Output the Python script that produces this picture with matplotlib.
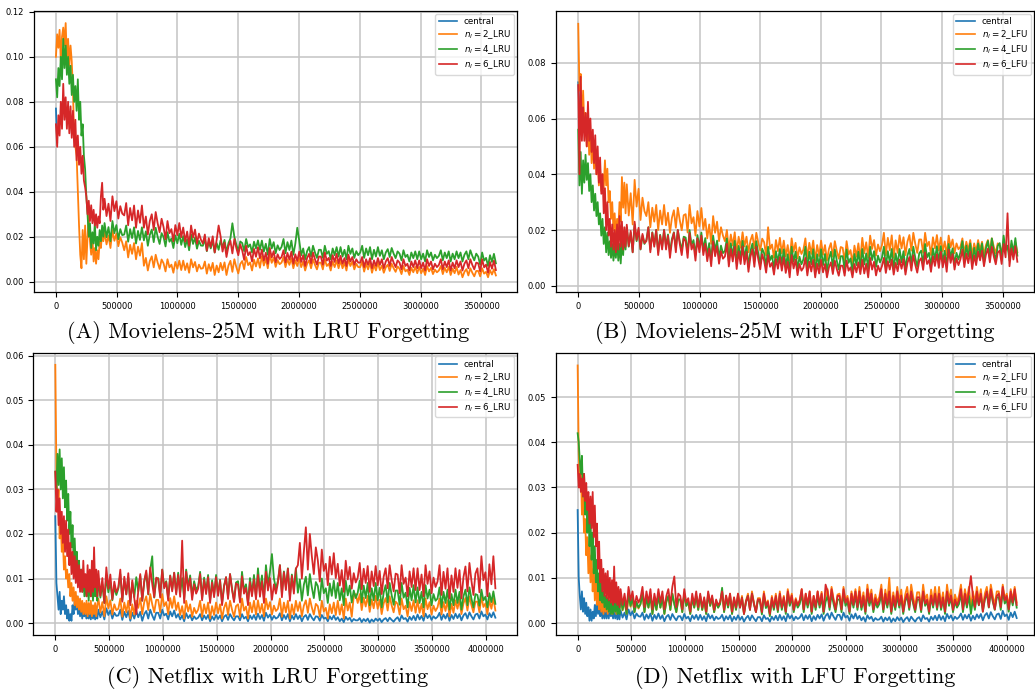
import numpy as np
import matplotlib.pyplot as plt

# valores em unidades de 1e-4
# 40 pontos iniciais (0..390000, passo 10000) + 200 pontos de 400000 ate o fim
x_end_movielens = 3620000
x_end_netflix = 4090000

# (A) Movielens-25M LRU
a_central = [770, 620]
a_n2 = [1000, 1100, 1040, 1120, 980, 1090, 1130, 1050, 1150, 990, 1080, 960, 1050, 980, 850, 640, 600, 560, 400, 250,
        120, 60, 230, 100, 250, 80, 200, 300, 180, 120, 200, 90, 150, 80, 140, 100, 180, 150, 220, 180,
        222, 166, 206, 150, 230, 182, 214, 158, 198, 174, 140, 180, 108, 164, 124, 172, 100, 156, 116, 172,
        71, 106, 50, 92, 113, 64, 120, 85, 57, 99, 82, 46, 100, 64, 76, 40, 88, 58, 94, 52,
        94, 52, 82, 40, 100, 64, 88, 46, 76, 58, 60, 90, 36, 78, 48, 84, 30, 72, 42, 84,
        51, 86, 30, 72, 93, 44, 100, 65, 37, 79, 92, 56, 110, 74, 86, 50, 98, 68, 104, 62,
        114, 72, 102, 60, 120, 84, 108, 66, 96, 78, 85, 110, 65, 100, 75, 105, 60, 95, 70, 105,
        65, 90, 50, 80, 95, 60, 100, 75, 55, 85, 85, 55, 100, 70, 80, 50, 90, 65, 95, 60,
        95, 60, 85, 50, 100, 70, 90, 55, 80, 65, 65, 90, 45, 80, 55, 85, 40, 75, 50, 85,
        52, 72, 40, 64, 76, 48, 80, 60, 44, 68, 58, 34, 70, 46, 54, 30, 62, 42, 66, 38,
        66, 38, 58, 30, 70, 46, 62, 34, 54, 42, 50, 70, 34, 62, 42, 66, 30, 58, 38, 66,
        32, 52, 20, 44, 56, 28, 60, 40, 24, 48, 48, 24, 60, 36, 44, 20, 52, 32, 56, 28]
a_n4 = [900, 820, 950, 870, 1000, 900, 1080, 950, 1050, 920, 1000, 880, 960, 830, 920, 800, 870, 760, 900, 720,
        800, 650, 700, 560, 500, 380, 300, 200, 260, 150, 220, 170, 260, 140, 200, 160, 230, 180, 250, 200,
        261, 198, 243, 180, 270, 216, 252, 189, 234, 207, 210, 250, 178, 234, 194, 242, 170, 226, 186, 242,
        184, 224, 160, 208, 232, 176, 240, 200, 168, 216, 199, 157, 220, 178, 192, 150, 206, 171, 213, 164,
        203, 154, 189, 140, 210, 168, 196, 147, 182, 161, 160, 190, 136, 178, 148, 184, 130, 172, 142, 184,
        151, 186, 130, 172, 193, 260, 200, 165, 137, 179, 172, 136, 190, 154, 166, 130, 178, 148, 184, 142,
        183, 134, 169, 120, 190, 148, 176, 127, 162, 141, 155, 190, 127, 176, 141, 183, 120, 169, 240, 183,
        118, 148, 100, 136, 154, 112, 160, 130, 106, 142, 142, 106, 160, 124, 136, 100, 148, 118, 154, 112,
        154, 112, 142, 100, 160, 124, 148, 106, 136, 118, 130, 160, 106, 148, 118, 154, 100, 142, 112, 154,
        115, 140, 100, 130, 145, 110, 150, 125, 105, 135, 125, 95, 140, 110, 120, 90, 130, 105, 135, 100,
        135, 100, 125, 90, 140, 110, 130, 95, 120, 105, 115, 140, 95, 130, 105, 135, 90, 125, 100, 135,
        105, 130, 90, 120, 135, 100, 140, 115, 95, 125, 112, 76, 130, 94, 106, 70, 118, 88, 124, 82]
a_n6 = [700, 600, 740, 650, 800, 680, 880, 720, 820, 680, 800, 660, 780, 640, 760, 600, 720, 540, 650, 520,
        600, 480, 560, 450, 420, 380, 300, 360, 270, 340, 260, 320, 250, 300, 240, 290, 260, 380, 440, 320,
        369, 292, 347, 270, 380, 314, 358, 281, 336, 303, 295, 350, 251, 328, 273, 339, 240, 317, 262, 339,
        240, 290, 210, 270, 300, 230, 310, 260, 220, 280, 243, 189, 270, 216, 234, 180, 252, 207, 261, 198,
        241, 178, 223, 160, 250, 196, 232, 169, 214, 187, 170, 210, 138, 194, 154, 202, 130, 186, 250, 202,
        134, 174, 110, 158, 182, 126, 190, 150, 118, 166, 139, 97, 160, 118, 132, 90, 146, 111, 153, 104,
        143, 94, 129, 80, 150, 108, 136, 87, 122, 101, 110, 140, 86, 128, 98, 134, 80, 122, 92, 134,
        88, 118, 70, 106, 124, 82, 130, 100, 76, 112, 112, 76, 130, 94, 106, 70, 118, 88, 124, 82,
        115, 80, 105, 70, 120, 90, 110, 75, 100, 85, 85, 110, 65, 100, 75, 105, 60, 95, 70, 105,
        75, 100, 60, 90, 105, 70, 110, 85, 65, 95, 85, 55, 100, 70, 80, 50, 90, 65, 95, 60,
        95, 60, 85, 50, 100, 70, 90, 55, 80, 65, 75, 100, 55, 90, 65, 95, 50, 85, 60, 95,
        65, 90, 50, 80, 95, 60, 100, 75, 55, 85, 82, 46, 100, 64, 76, 40, 88, 58, 94, 52]

# (B) Movielens-25M LFU
b_central = [730, 620]
b_n2 = [940, 700, 760, 560, 700, 580, 620, 500, 600, 470, 560, 440, 520, 420, 500, 400, 460, 360, 420, 340,
        400, 350, 450, 360, 420, 300, 340, 240, 300, 200, 260, 180, 240, 200, 300, 230, 390, 280, 370, 260,
        364, 252, 332, 220, 380, 284, 348, 236, 316, 268, 250, 300, 210, 280, 230, 290, 200, 270, 220, 290,
        217, 262, 190, 244, 271, 208, 280, 235, 199, 253, 257, 191, 290, 224, 246, 180, 268, 213, 279, 202,
        240, 170, 220, 150, 250, 190, 230, 160, 210, 180, 160, 200, 128, 184, 144, 192, 120, 176, 136, 192,
        141, 176, 120, 162, 183, 134, 190, 155, 127, 169, 156, 108, 210, 132, 148, 100, 164, 124, 172, 116,
        162, 106, 146, 90, 170, 122, 154, 98, 138, 114, 130, 170, 98, 154, 114, 162, 90, 146, 106, 162,
        111, 146, 90, 132, 153, 104, 160, 125, 97, 139, 136, 88, 160, 112, 128, 80, 144, 104, 152, 96,
        172, 116, 156, 100, 180, 132, 164, 108, 148, 124, 145, 190, 109, 172, 127, 181, 100, 163, 118, 181,
        134, 174, 110, 158, 182, 126, 190, 150, 118, 166, 166, 118, 190, 142, 158, 110, 174, 134, 182, 126,
        173, 124, 159, 110, 180, 138, 166, 117, 152, 131, 140, 170, 116, 158, 128, 164, 110, 152, 122, 164,
        128, 158, 110, 146, 164, 122, 170, 140, 116, 152, 145, 115, 160, 130, 140, 110, 150, 125, 155, 120]
b_n4 = [560, 360, 480, 330, 450, 370, 470, 380, 440, 340, 400, 300, 360, 270, 330, 250, 300, 220, 260, 180,
        240, 150, 210, 120, 190, 110, 160, 100, 150, 90, 140, 100, 160, 90, 150, 80, 160, 110, 180, 130,
        210, 140, 190, 120, 220, 160, 200, 130, 180, 150, 165, 210, 129, 192, 147, 201, 120, 183, 138, 201,
        144, 184, 120, 168, 192, 136, 200, 160, 128, 176, 173, 119, 200, 146, 164, 110, 182, 137, 191, 128,
        171, 108, 153, 90, 180, 126, 162, 99, 144, 117, 125, 170, 89, 152, 107, 161, 80, 143, 98, 161,
        97, 142, 70, 124, 151, 88, 160, 115, 79, 133, 116, 68, 140, 92, 108, 60, 124, 84, 132, 76,
        131, 68, 113, 50, 140, 86, 122, 59, 104, 77, 95, 140, 59, 122, 77, 131, 50, 113, 68, 131,
        74, 114, 50, 98, 122, 66, 130, 90, 58, 106, 106, 58, 130, 82, 98, 50, 114, 74, 122, 66,
        132, 76, 116, 60, 140, 92, 124, 68, 108, 84, 100, 140, 68, 124, 84, 132, 60, 116, 76, 132,
        84, 124, 60, 108, 132, 76, 140, 100, 68, 116, 126, 78, 150, 102, 118, 70, 134, 94, 142, 86,
        142, 86, 126, 70, 150, 102, 134, 78, 118, 94, 120, 160, 88, 144, 104, 152, 80, 136, 96, 152,
        107, 152, 80, 134, 161, 98, 170, 125, 89, 143, 153, 99, 180, 126, 144, 90, 162, 117, 171, 108]
b_n6 = [720, 400, 750, 520, 640, 520, 620, 500, 660, 520, 600, 480, 560, 440, 540, 400, 500, 370, 460, 330,
        400, 260, 350, 200, 300, 180, 240, 140, 220, 130, 200, 120, 220, 130, 250, 140, 230, 130, 210, 140,
        219, 142, 197, 120, 230, 164, 208, 131, 186, 153, 160, 210, 120, 190, 140, 200, 110, 180, 130, 200,
        130, 180, 100, 160, 190, 120, 200, 150, 110, 170, 160, 100, 190, 130, 150, 90, 170, 120, 180, 110,
        151, 88, 133, 70, 160, 106, 142, 79, 124, 97, 105, 150, 69, 132, 87, 141, 60, 123, 78, 141,
        77, 122, 50, 104, 131, 68, 140, 95, 59, 113, 89, 47, 110, 68, 82, 40, 96, 61, 103, 54,
        102, 46, 86, 30, 110, 62, 94, 38, 78, 54, 65, 100, 37, 86, 51, 93, 30, 79, 44, 93,
        48, 78, 30, 66, 84, 42, 90, 60, 36, 72, 72, 36, 90, 54, 66, 30, 78, 48, 84, 42,
        93, 44, 79, 30, 100, 58, 86, 37, 72, 51, 70, 100, 46, 88, 58, 94, 40, 82, 52, 94,
        61, 96, 40, 82, 103, 54, 110, 75, 47, 89, 99, 57, 120, 78, 92, 50, 106, 71, 113, 64,
        122, 66, 106, 50, 130, 82, 114, 58, 98, 74, 95, 130, 67, 116, 81, 123, 60, 109, 74, 123,
        91, 126, 70, 112, 133, 84, 140, 105, 77, 119, 126, 78, 150, 102, 260, 70, 134, 94, 142, 86]

# (C) Netflix LRU
c_central = [240, 90, 60, 30, 70, 20, 50, 30, 60, 20, 40, 10, 30, 5, 20, 5, 40, 20, 50, 30,
             60, 20, 40, 15, 35, 10, 30, 15, 40, 10, 30, 10, 25, 8, 30, 10, 25, 8, 20, 10,
             30, 13, 26, 8, 33, 18, 28, 10, 23, 16, 17, 30, 7, 25, 13, 27, 5, 23, 10, 27,
             13, 25, 5, 20, 27, 10, 30, 17, 7, 23, 23, 10, 30, 17, 21, 8, 26, 15, 28, 12,
             20, 8, 17, 4, 22, 11, 18, 6, 15, 9, 12, 20, 6, 17, 9, 18, 4, 15, 7, 18,
             9, 17, 4, 14, 18, 7, 20, 12, 6, 15, 15, 6, 20, 10, 14, 4, 17, 9, 18, 7,
             21, 9, 18, 5, 23, 12, 19, 7, 16, 10, 13, 22, 6, 18, 9, 20, 4, 17, 8, 20,
             9, 17, 4, 14, 18, 7, 20, 12, 6, 15, 14, 5, 18, 10, 12, 4, 15, 8, 17, 7,
             13, 4, 10, 2, 14, 7, 12, 3, 9, 6, 6, 11, 2, 9, 4, 10, 1, 8, 3, 10,
             5, 10, 2, 8, 11, 4, 12, 7, 3, 9, 13, 4, 17, 9, 11, 3, 14, 7, 16, 6,
             19, 8, 16, 5, 21, 11, 18, 7, 15, 10, 14, 23, 7, 19, 10, 21, 5, 18, 9, 21,
             11, 20, 6, 17, 22, 10, 24, 15, 8, 19, 21, 10, 26, 15, 19, 8, 22, 13, 24, 12]
c_n2 = [580, 340, 250, 300, 190, 230, 160, 190, 120, 150, 100, 120, 80, 110, 60, 90, 50, 80, 40, 70,
        35, 60, 30, 55, 25, 50, 20, 45, 20, 50, 15, 45, 20, 50, 15, 40, 20, 45, 15, 40,
        55, 24, 47, 15, 60, 33, 51, 19, 42, 29, 32, 55, 14, 46, 24, 50, 10, 42, 19, 50,
        34, 56, 20, 47, 60, 29, 65, 42, 24, 52, 52, 24, 65, 38, 47, 20, 56, 34, 60, 29,
        46, 18, 38, 10, 50, 26, 42, 14, 34, 22, 30, 50, 14, 42, 22, 46, 10, 38, 18, 46,
        22, 42, 10, 34, 46, 18, 50, 30, 14, 38, 42, 14, 55, 28, 37, 10, 46, 24, 50, 19,
        51, 23, 43, 15, 55, 31, 47, 19, 39, 27, 32, 55, 14, 46, 24, 50, 10, 42, 19, 50,
        27, 47, 15, 39, 51, 23, 55, 35, 19, 43, 38, 14, 50, 26, 34, 10, 42, 22, 46, 18,
        50, 19, 42, 10, 55, 28, 46, 14, 60, 65, 45, 65, 29, 57, 37, 61, 25, 53, 33, 61,
        32, 52, 20, 44, 56, 28, 60, 40, 24, 48, 43, 19, 55, 31, 39, 15, 47, 27, 51, 23,
        51, 23, 43, 15, 55, 31, 47, 19, 39, 27, 35, 55, 19, 47, 27, 51, 15, 43, 23, 51,
        32, 52, 20, 44, 56, 28, 60, 40, 24, 48, 48, 24, 60, 36, 44, 20, 52, 32, 56, 28]
c_n4 = [340, 300, 380, 310, 390, 300, 370, 280, 350, 260, 320, 230, 290, 200, 250, 170, 220, 140, 190, 120,
        160, 100, 140, 80, 120, 70, 110, 60, 100, 60, 90, 50, 100, 60, 90, 50, 100, 60, 80, 50,
        99, 57, 87, 45, 105, 69, 93, 51, 81, 63, 77, 110, 51, 97, 65, 103, 45, 91, 58, 103,
        71, 106, 50, 92, 113, 64, 120, 150, 57, 99, 101, 61, 120, 81, 94, 55, 107, 75, 113, 68,
        113, 68, 101, 55, 120, 81, 107, 61, 94, 75, 82, 115, 56, 102, 70, 108, 50, 96, 63, 108,
        65, 97, 45, 84, 103, 58, 110, 77, 51, 91, 94, 52, 115, 73, 87, 45, 101, 66, 108, 59,
        123, 70, 107, 55, 130, 85, 115, 155, 100, 77, 95, 130, 67, 116, 81, 123, 60, 109, 74, 123,
        68, 98, 50, 86, 104, 62, 110, 80, 56, 92, 83, 51, 100, 67, 78, 45, 89, 61, 95, 56,
        90, 51, 78, 40, 95, 62, 84, 46, 73, 56, 68, 95, 46, 84, 56, 90, 40, 78, 51, 90,
        51, 79, 35, 68, 85, 46, 90, 63, 41, 73, 73, 41, 90, 57, 68, 35, 79, 51, 85, 46,
        80, 45, 70, 35, 85, 55, 75, 40, 65, 50, 55, 80, 35, 70, 45, 75, 30, 65, 40, 75,
        45, 70, 30, 60, 75, 40, 80, 55, 35, 65, 63, 39, 75, 51, 59, 35, 67, 47, 71, 43]
c_n6 = [340, 250, 300, 220, 280, 200, 250, 180, 240, 160, 230, 150, 210, 130, 180, 110, 160, 100, 150, 90,
        140, 80, 130, 70, 120, 70, 140, 80, 110, 60, 130, 70, 120, 60, 140, 70, 170, 80, 120, 60,
        117, 61, 101, 45, 125, 77, 109, 53, 93, 69, 80, 120, 48, 104, 64, 112, 40, 96, 56, 20,
        72, 110, 50, 95, 118, 65, 125, 88, 58, 102, 99, 57, 120, 78, 92, 50, 106, 71, 113, 64,
        108, 59, 185, 45, 115, 73, 101, 52, 87, 66, 77, 110, 51, 97, 65, 103, 45, 91, 58, 103,
        61, 96, 40, 82, 103, 54, 110, 75, 47, 89, 86, 46, 105, 66, 79, 40, 92, 60, 98, 53,
        108, 59, 94, 45, 115, 73, 101, 52, 87, 66, 90, 130, 58, 114, 74, 122, 50, 106, 66, 122,
        130, 180, 100, 160, 215, 120, 200, 150, 110, 170, 141, 93, 165, 117, 133, 85, 149, 109, 157, 101,
        133, 84, 119, 70, 140, 98, 126, 77, 112, 91, 102, 135, 76, 122, 90, 128, 70, 116, 83, 128,
        85, 117, 65, 104, 123, 78, 130, 97, 71, 111, 109, 67, 130, 88, 102, 60, 116, 81, 123, 74,
        123, 74, 109, 60, 130, 88, 116, 67, 102, 81, 93, 130, 63, 115, 77, 123, 55, 107, 70, 123,
        79, 119, 55, 103, 127, 71, 135, 95, 63, 111, 123, 69, 150, 96, 114, 60, 132, 87, 150, 78]

# (D) Netflix LFU
d_central = [250, 100, 60, 30, 70, 25, 55, 20, 45, 15, 35, 5, 30, 5, 25, 10, 40, 15, 50, 20,
             45, 15, 35, 10, 30, 10, 35, 10, 40, 10, 35, 15, 30, 10, 35, 10, 30, 8, 25, 8,
             28, 12, 23, 8, 30, 17, 26, 10, 21, 15, 14, 23, 7, 19, 10, 21, 5, 18, 9, 21,
             9, 17, 4, 14, 18, 7, 20, 12, 6, 15, 15, 6, 20, 10, 14, 4, 17, 9, 18, 7,
             18, 7, 15, 4, 20, 10, 17, 6, 14, 9, 11, 18, 5, 15, 8, 17, 4, 14, 7, 17,
             7, 14, 3, 11, 16, 6, 17, 10, 4, 13, 13, 4, 17, 9, 11, 3, 14, 7, 16, 6,
             18, 7, 15, 4, 20, 10, 17, 6, 14, 9, 12, 20, 6, 17, 9, 18, 4, 15, 7, 18,
             10, 19, 5, 16, 21, 9, 23, 14, 7, 18, 18, 7, 23, 12, 16, 5, 19, 10, 21, 9,
             16, 6, 13, 3, 17, 9, 14, 4, 11, 7, 8, 14, 3, 12, 6, 13, 2, 10, 4, 13,
             6, 12, 2, 9, 13, 4, 14, 8, 3, 10, 13, 4, 17, 9, 11, 3, 14, 7, 16, 6,
             18, 7, 15, 4, 20, 10, 17, 6, 14, 9, 13, 21, 7, 18, 10, 19, 5, 16, 8, 19,
             11, 20, 6, 17, 22, 10, 24, 15, 8, 19, 21, 9, 27, 15, 19, 7, 23, 13, 25, 11]
d_n2 = [570, 380, 300, 340, 240, 280, 200, 230, 150, 190, 110, 170, 90, 150, 70, 120, 50, 100, 40, 80,
        30, 60, 25, 55, 20, 50, 25, 60, 20, 50, 25, 55, 20, 50, 25, 45, 20, 50, 25, 55,
        56, 28, 48, 20, 60, 36, 52, 24, 44, 32, 42, 65, 24, 56, 34, 60, 20, 52, 29, 60,
        34, 56, 20, 47, 60, 29, 65, 42, 24, 52, 52, 24, 65, 38, 47, 20, 56, 34, 60, 29,
        60, 29, 52, 20, 65, 38, 56, 24, 47, 34, 45, 70, 25, 60, 35, 65, 20, 55, 30, 65,
        35, 60, 20, 50, 65, 30, 70, 45, 25, 55, 55, 25, 70, 40, 50, 20, 60, 35, 65, 30,
        70, 35, 60, 25, 75, 45, 65, 30, 55, 40, 50, 75, 30, 65, 40, 70, 25, 60, 35, 70,
        41, 69, 25, 58, 75, 36, 80, 53, 31, 63, 65, 35, 80, 50, 60, 30, 70, 45, 75, 40,
        80, 41, 68, 30, 85, 52, 74, 36, 63, 46, 58, 85, 36, 74, 46, 100, 30, 68, 41, 80,
        46, 74, 30, 63, 80, 41, 85, 58, 36, 68, 68, 36, 85, 52, 63, 30, 74, 46, 80, 41,
        80, 41, 68, 30, 85, 52, 74, 36, 63, 46, 60, 85, 40, 75, 50, 80, 35, 70, 45, 80,
        50, 75, 35, 65, 80, 45, 85, 60, 40, 70, 70, 40, 85, 55, 65, 35, 75, 50, 80, 45]
d_n4 = [420, 400, 360, 330, 370, 280, 330, 240, 290, 200, 260, 170, 230, 140, 200, 110, 170, 90, 140, 70,
        110, 50, 90, 45, 70, 35, 60, 30, 55, 25, 50, 20, 45, 20, 55, 25, 50, 20, 45, 20,
        60, 29, 52, 20, 65, 38, 56, 24, 47, 34, 42, 65, 24, 56, 34, 60, 20, 52, 29, 60,
        34, 56, 20, 47, 60, 29, 65, 42, 24, 52, 52, 24, 65, 38, 47, 20, 56, 34, 60, 29,
        60, 29, 52, 20, 65, 38, 56, 24, 47, 34, 42, 78, 24, 56, 34, 60, 20, 52, 29, 60,
        34, 56, 20, 47, 60, 29, 65, 42, 24, 52, 47, 19, 60, 33, 42, 15, 51, 29, 55, 24,
        60, 29, 52, 20, 65, 38, 56, 24, 47, 34, 42, 65, 24, 56, 34, 60, 20, 52, 29, 60,
        34, 56, 20, 47, 60, 29, 65, 42, 24, 52, 52, 24, 65, 38, 47, 20, 56, 34, 60, 29,
        60, 29, 52, 20, 65, 38, 56, 24, 47, 34, 42, 65, 24, 56, 34, 60, 20, 52, 29, 60,
        34, 56, 20, 47, 60, 29, 65, 42, 24, 52, 52, 24, 65, 38, 47, 20, 56, 34, 60, 29,
        60, 29, 52, 20, 65, 38, 56, 24, 47, 34, 42, 65, 24, 56, 34, 60, 20, 52, 29, 60,
        39, 61, 25, 52, 65, 34, 70, 47, 29, 57, 57, 29, 70, 43, 52, 25, 61, 39, 65, 34]
d_n6 = [350, 300, 330, 290, 320, 280, 330, 270, 310, 250, 290, 220, 280, 210, 290, 190, 260, 170, 220, 120,
        180, 90, 140, 70, 120, 60, 110, 55, 115, 50, 100, 45, 95, 40, 125, 45, 90, 40, 80, 35,
        75, 40, 65, 30, 80, 50, 70, 35, 60, 45, 55, 80, 35, 70, 45, 75, 30, 65, 40, 75,
        45, 70, 30, 60, 75, 40, 80, 103, 35, 65, 60, 30, 75, 45, 55, 25, 65, 40, 70, 35,
        65, 34, 57, 25, 70, 43, 61, 29, 52, 39, 47, 70, 29, 61, 39, 65, 25, 57, 34, 65,
        34, 56, 20, 47, 60, 29, 65, 42, 24, 52, 52, 24, 65, 38, 47, 20, 56, 34, 60, 29,
        65, 34, 57, 25, 70, 43, 61, 29, 52, 39, 50, 75, 30, 65, 40, 70, 25, 60, 35, 70,
        40, 65, 25, 85, 70, 35, 75, 50, 30, 60, 60, 30, 75, 45, 55, 25, 65, 40, 70, 35,
        70, 35, 60, 25, 75, 45, 65, 30, 55, 40, 50, 75, 30, 65, 40, 70, 25, 60, 35, 70,
        39, 61, 25, 52, 65, 34, 70, 47, 29, 57, 57, 29, 70, 43, 52, 25, 61, 39, 65, 34,
        65, 34, 57, 25, 70, 43, 61, 29, 52, 39, 50, 75, 30, 65, 40, 70, 104, 60, 35, 70,
        40, 65, 25, 55, 70, 35, 75, 50, 30, 60, 65, 35, 80, 50, 60, 30, 70, 45, 75, 40]

legend_lru = ['central', r'$n_l = 2$_LRU', r'$n_l = 4$_LRU', r'$n_l = 6$_LRU']
legend_lfu = ['central', r'$n_l = 2$_LFU', r'$n_l = 4$_LFU', r'$n_l = 6$_LFU']
legendas = ['(A) Movielens-25M with LRU Forgetting', '(B) Movielens-25M with LFU Forgetting',
            '(C) Netflix with LRU Forgetting', '(D) Netflix with LFU Forgetting']
cores = ['#1f77b4', '#ff7f0e', '#2ca02c', '#d62728']


def eixo_x(x_end):
    inicio = np.arange(40) * 10000.0
    resto = np.linspace(400000, x_end, 200)
    return np.concatenate([inicio, resto])


def desenhar(ax, series, nomes, x_end, xlim, ylim, yticks):
    x = eixo_x(x_end)
    for s, nome, cor in zip(series, nomes, cores):
        y = np.array(s) * 1e-4
        ax.plot(x[:len(y)], y, color=cor, lw=1.3, label=nome)
    ax.set_xlim(*xlim)
    ax.set_ylim(*ylim)
    ax.set_yticks(yticks)
    ax.ticklabel_format(axis='x', style='plain', useOffset=False)
    ax.tick_params(labelsize=6, length=3.5, width=0.8)
    ax.grid(True, color='#c4c4c4', lw=1.1)
    ax.set_axisbelow(True)
    for sp in ax.spines.values():
        sp.set_linewidth(0.9)
    leg = ax.legend(loc='upper right', fontsize=6.3, handlelength=2.1, borderaxespad=0.35,
                    labelspacing=0.25, framealpha=0.8, edgecolor='#d0d0d0')
    for linha in leg.get_lines():
        linha.set_linewidth(1.2)


fig = plt.figure(figsize=(10.35, 6.95), dpi=100)

ax_a = fig.add_axes([0.0328, 0.5794, 0.4670, 0.4052])
ax_b = fig.add_axes([0.5372, 0.5794, 0.4618, 0.4052])
ax_c = fig.add_axes([0.0322, 0.0859, 0.4676, 0.4058])
ax_d = fig.add_axes([0.5369, 0.0859, 0.4621, 0.4058])

desenhar(ax_a, [a_central, a_n2, a_n4, a_n6], legend_lru, x_end_movielens,
         (-181000, 3796000), (-0.0047, 0.1205), np.arange(0, 0.121, 0.02))
desenhar(ax_b, [b_central, b_n2, b_n4, b_n6], legend_lfu, x_end_movielens,
         (-183500, 3757000), (-0.00236, 0.0987), np.arange(0, 0.081, 0.02))
desenhar(ax_c, [c_central, c_n2, c_n4, c_n6], legend_lru, x_end_netflix,
         (-204500, 4293700), (-0.00276, 0.0606), np.arange(0, 0.061, 0.01))
desenhar(ax_d, [d_central, d_n2, d_n4, d_n6], legend_lfu, x_end_netflix,
         (-204500, 4251000), (-0.00272, 0.0597), np.arange(0, 0.051, 0.01))

pos_legenda = [(0.259, 0.522), (0.768, 0.522), (0.259, 0.0245), (0.768, 0.0245)]
for (lx, ly), texto in zip(pos_legenda, legendas):
    fig.text(lx, ly, texto, family='cmr10', fontsize=16, ha='center', va='center')

fig.savefig('out.png', dpi=100)
